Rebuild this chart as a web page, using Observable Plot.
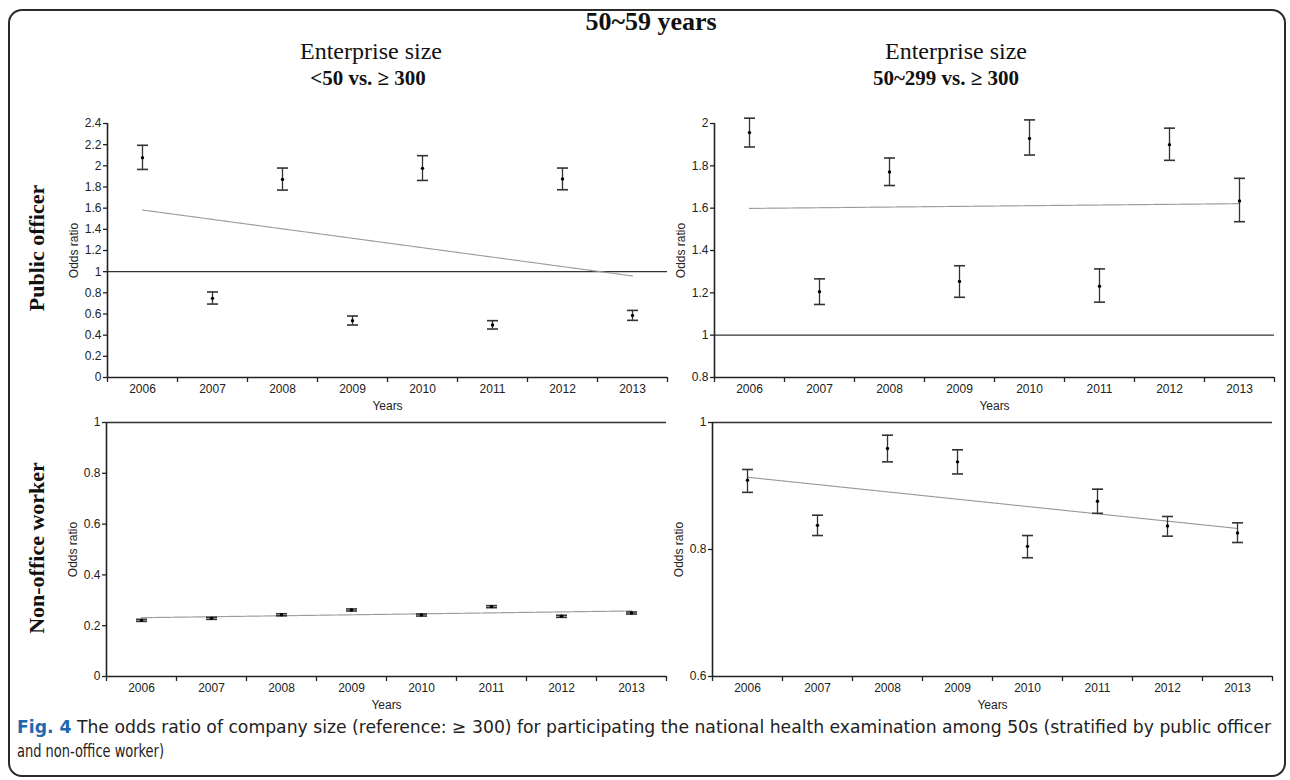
<!DOCTYPE html>
<html>
<head>
<meta charset="utf-8">
<script src="https://cdn.jsdelivr.net/npm/d3@7"></script>
<script src="https://cdn.jsdelivr.net/npm/@observablehq/plot@0.6"></script>
<style>
  html, body { margin: 0; padding: 0; background: #fff; overflow: hidden; }
  #root { position: relative; width: 1290px; height: 780px; background: #fff; }
  .abs { position: absolute; white-space: nowrap; }
  .serif { font-family: "Liberation Serif", "Times New Roman", serif; color: #111; }
  .ctr { transform: translate(-50%, 0); }
  .rot { transform: translate(-50%, -50%) rotate(-90deg); }
  #frame { position: absolute; left: 8px; top: 9px; width: 1278px; height: 768px; box-sizing: border-box;
           border: 2px solid #2a2a2a; border-radius: 14px; }
  .panel { position: absolute; }
</style>
</head>
<body>
<div id="root">
  <div id="frame"></div>
  <div class="abs serif ctr" style="left:651px; top:7px; font-size:26px; font-weight:bold;">50~59 years</div>
  <div class="abs serif ctr" style="left:371px; top:38px; font-size:24px;">Enterprise size</div>
  <div class="abs serif ctr" style="left:956px; top:38px; font-size:24px;">Enterprise size</div>
  <div class="abs serif ctr" style="left:368px; top:66px; font-size:21px; font-weight:bold;">&lt;50 vs. ≥ 300</div>
  <div class="abs serif ctr" style="left:946px; top:66px; font-size:21px; font-weight:bold;">50~299 vs. ≥ 300</div>
  <div class="abs serif rot" style="left:37px; top:248px; font-size:22px; font-weight:bold;">Public officer</div>
  <div class="abs serif rot" style="left:37px; top:548px; font-size:22px; font-weight:bold;">Non-office worker</div>
  <div id="tl" class="panel" style="left:62px; top:111px;"></div>
  <div id="tr" class="panel" style="left:669px; top:111px;"></div>
  <div id="bl" class="panel" style="left:61px; top:410px;"></div>
  <div id="br" class="panel" style="left:667px; top:410px;"></div>
  <svg class="abs" style="left:0; top:710px;" width="1290" height="70">
    <text x="17" y="23" textLength="1254" lengthAdjust="spacingAndGlyphs"
      style="font-family:'Liberation Sans Narrow','DejaVu Sans Condensed','Liberation Sans',sans-serif; font-size:17px; fill:#222;"><tspan style="font-weight:bold; fill:#1f68b0;">Fig. 4</tspan> The odds ratio of company size (reference: ≥ 300) for participating the national health examination among 50s (stratified by public officer</text>
    <text x="17" y="47" textLength="147" lengthAdjust="spacingAndGlyphs"
      style="font-family:'Liberation Sans Narrow','DejaVu Sans Condensed','Liberation Sans',sans-serif; font-size:17px; fill:#222;">and non-office worker)</text>
  </svg>
</div>
<script>
// ---- Data ----
const years = [2006, 2007, 2008, 2009, 2010, 2011, 2012, 2013];

// Public officer, <50 vs. >=300
const poSmallOR = [2.077, 0.748, 1.872, 0.537, 1.976, 0.496, 1.875, 0.587];
const poSmallLo = [1.966, 0.694, 1.771, 0.496, 1.862, 0.458, 1.774, 0.540];
const poSmallHi = [2.194, 0.808, 1.979, 0.581, 2.096, 0.537, 1.979, 0.634];

// Public officer, 50~299 vs. >=300
const poMidOR = [1.957, 1.205, 1.771, 1.254, 1.929, 1.231, 1.900, 1.634];
const poMidLo = [1.889, 1.145, 1.707, 1.179, 1.851, 1.156, 1.826, 1.536];
const poMidHi = [2.025, 1.266, 1.837, 1.328, 2.017, 1.313, 1.978, 1.741];

// Non-office worker, <50 vs. >=300
const noSmallOR = [0.221, 0.229, 0.243, 0.262, 0.242, 0.275, 0.237, 0.250];
const noSmallLo = [0.217, 0.225, 0.239, 0.258, 0.238, 0.271, 0.233, 0.246];
const noSmallHi = [0.225, 0.233, 0.247, 0.266, 0.246, 0.279, 0.241, 0.254];

// Non-office worker, 50~299 vs. >=300
const noMidOR = [0.909, 0.838, 0.959, 0.938, 0.805, 0.876, 0.837, 0.826];
const noMidLo = [0.890, 0.822, 0.938, 0.919, 0.787, 0.857, 0.821, 0.811];
const noMidHi = [0.926, 0.854, 0.980, 0.957, 0.822, 0.895, 0.852, 0.842];

// Axis tick values
const ticksTL = [0, 0.2, 0.4, 0.6, 0.8, 1, 1.2, 1.4, 1.6, 1.8, 2, 2.2, 2.4];
const ticksTR = [0.8, 1, 1.2, 1.4, 1.6, 1.8, 2];
const ticksBL = [0, 0.2, 0.4, 0.6, 0.8, 1];
const ticksBR = [0.6, 0.8, 1];
const referenceOR = 1;

// ---- Drawing ----
const cap = {
  draw(context, size) {
    const r = Math.sqrt(size / Math.PI);
    context.moveTo(-r, 0);
    context.lineTo(r, 0);
  }
};
const bounds = years.map(y => y - 0.5).concat([years[years.length - 1] + 0.5]);

function panel(id, or, lo, hi, domain, ticks) {
  const data = years.map((year, i) => ({year, or: or[i], lo: lo[i], hi: hi[i]}));
  const chart = Plot.plot({
    width: 615, height: 304,
    marginLeft: 45, marginRight: 10, marginTop: 12, marginBottom: 38,
    style: {fontFamily: "'Liberation Sans', Arial, sans-serif", fontSize: "12px", color: "#222", background: "transparent", overflow: "visible"},
    x: {domain: [bounds[0], bounds[bounds.length - 1]]},
    y: {domain},
    marks: [
      Plot.ruleY([referenceOR], {stroke: "#333", strokeWidth: 1.3}),
      Plot.linearRegressionY(data, {x: "year", y: "or", ci: 0, stroke: "#9a9a9a", strokeWidth: 1.2, strokeDasharray: "1 1"}),
      Plot.ruleX(data, {x: "year", y1: "lo", y2: "hi", stroke: "#333", strokeWidth: 1.3}),
      Plot.dot(data, {x: "year", y: "lo", symbol: cap, r: 5.5, stroke: "#333", strokeWidth: 1.6}),
      Plot.dot(data, {x: "year", y: "hi", symbol: cap, r: 5.5, stroke: "#333", strokeWidth: 1.6}),
      Plot.dot(data, {x: "year", y: "or", r: 1.7, fill: "#000"}),
      Plot.ruleX([bounds[0]], {stroke: "#222", strokeWidth: 1.6}),
      Plot.ruleY([domain[0]], {stroke: "#222", strokeWidth: 1.6}),
      Plot.axisY({ticks, tickSize: 4, tickPadding: 2, strokeWidth: 1.3,
        tickFormat: d => String(+d.toFixed(1)),
        label: "Odds ratio", labelAnchor: "center", labelArrow: "none", labelOffset: 38}),
      Plot.axisX({ticks: bounds, tickSize: 5, strokeWidth: 1.3, tickFormat: () => "", label: null}),
      Plot.axisX({ticks: years, tickSize: 0, tickPadding: 7, tickFormat: d => String(d),
        label: "Years", labelAnchor: "center", labelArrow: "none", labelOffset: 32})
    ]
  });
  document.getElementById(id).appendChild(chart);
}

panel("tl", poSmallOR, poSmallLo, poSmallHi, [0, 2.4], ticksTL);
panel("tr", poMidOR, poMidLo, poMidHi, [0.8, 2], ticksTR);
panel("bl", noSmallOR, noSmallLo, noSmallHi, [0, 1], ticksBL);
panel("br", noMidOR, noMidLo, noMidHi, [0.6, 1], ticksBR);
</script>
</body>
</html>
